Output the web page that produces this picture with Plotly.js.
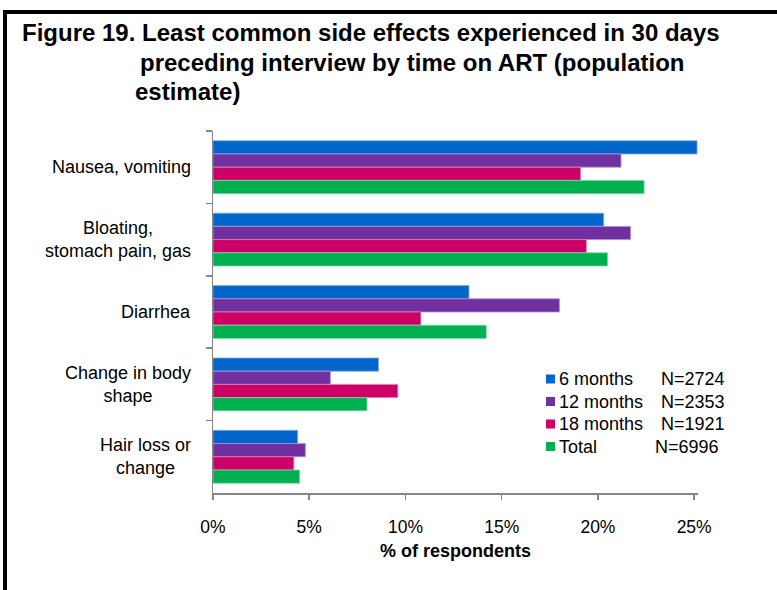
<!DOCTYPE html>
<html>
<head>
<meta charset="utf-8">
<script src="https://cdn.plot.ly/plotly-3.0.1.min.js"></script>
<style>
html,body{margin:0;padding:0;background:#fff;}
#chart{width:777px;height:590px;}
</style>
</head>
<body>
<div id="chart"></div>
<script>
// ---- data ----
const categories = ['Nausea, vomiting', 'Bloating, stomach pain, gas', 'Diarrhea', 'Change in body shape', 'Hair loss or change'];
const categoryLabels = ['Nausea, vomiting', 'Bloating,<br>stomach pain, gas', 'Diarrhea', 'Change in body<br>shape', 'Hair loss or<br>change'];
const seriesNames = ['6 months', '12 months', '18 months', 'Total'];
const seriesN = ['N=2724', 'N=2353', 'N=1921', 'N=6996'];
const months6 = [25.15, 20.3, 13.3, 8.6, 4.4];
const months12 = [21.2, 21.7, 18.0, 6.1, 4.8];
const months18 = [19.1, 19.4, 10.8, 9.6, 4.2];
const totalAll = [22.4, 20.5, 14.2, 8.0, 4.5];
const xTicks = [0, 5, 10, 15, 20, 25];
const xTickLabels = ['0%', '5%', '10%', '15%', '20%', '25%'];
const titleLines = ['Figure 19. Least common side effects experienced in 30 days',
                    'preceding interview by time on ART (population',
                    'estimate)'];
const axisTitle = '% of respondents';

const seriesValues = [months6, months12, months18, totalAll];
const colors = ['#0066CC', '#7030A0', '#CC0066', '#00B050'];
const edgeColors = ['#7FA8E0', '#B58FD0', '#E07FAA', '#7FD8A4'];

// ---- geometry helpers (pixel -> paper) ----
const W = 777, H = 590;
const M = {l: 213, r: 79, t: 131, b: 97};
const PW = W - M.l - M.r, PH = H - M.t - M.b;
const px = x => (x - M.l) / PW;
const py = y => (H - M.b - y) / PH;

const FONT = '"Liberation Sans", Arial, sans-serif';

const traces = seriesValues.map((vals, i) => ({
  type: 'bar',
  orientation: 'h',
  name: seriesNames[i],
  x: vals,
  y: categories,
  marker: {color: colors[i], line: {color: edgeColors[i], width: 0.8}},
  hoverinfo: 'x+y+name'
}));

const annotations = [];
// title lines
const titleX = [20, 138, 133];
const titleY = [33, 62, 91];
titleLines.forEach((t, i) => annotations.push({
  xref: 'paper', yref: 'paper', x: px(titleX[i]), y: py(titleY[i]),
  xanchor: 'left', yanchor: 'middle', showarrow: false, text: t,
  font: {family: FONT, size: 24, color: '#000', weight: 'bold'}
}));
// category labels
categories.forEach((c, i) => annotations.push({
  xref: 'paper', yref: 'y', x: px(193), y: c,
  xanchor: 'right', yanchor: 'middle', align: 'center', showarrow: false,
  text: categoryLabels[i], font: {family: FONT, size: 18, color: '#000'}
}));
// legend
const legRowY = [379, 401.5, 424, 446.5];
const nX = [659, 659, 659, 653];
const shapes = [];
seriesNames.forEach((n, i) => {
  annotations.push({
    xref: 'paper', yref: 'paper', x: px(557), y: py(legRowY[i]),
    xanchor: 'left', yanchor: 'middle', showarrow: false, text: n,
    font: {family: FONT, size: 18, color: '#000'}
  });
  annotations.push({
    xref: 'paper', yref: 'paper', x: px(nX[i]), y: py(legRowY[i]),
    xanchor: 'left', yanchor: 'middle', showarrow: false, text: seriesN[i],
    font: {family: FONT, size: 18, color: '#000'}
  });
  shapes.push({
    type: 'rect', xref: 'paper', yref: 'paper',
    x0: px(546), x1: px(555), y0: py(legRowY[i] - 4.5), y1: py(legRowY[i] + 4.5),
    fillcolor: colors[i], line: {width: 0}
  });
});
// outer frame (top and left)
shapes.push({type: 'line', xref: 'paper', yref: 'paper', x0: px(5), x1: px(780), y0: py(12), y1: py(12), line: {color: '#000', width: 4}});
shapes.push({type: 'line', xref: 'paper', yref: 'paper', x0: px(5), x1: px(5), y0: py(10), y1: py(600), line: {color: '#000', width: 4}});

const layout = {
  width: W, height: H,
  margin: M,
  paper_bgcolor: '#fff', plot_bgcolor: '#fff',
  barmode: 'group', bargap: 0.27, bargroupgap: 0,
  showlegend: false,
  font: {family: FONT, size: 18, color: '#000'},
  xaxis: {
    range: [0, 25.2], tickmode: 'array', tickvals: xTicks, ticktext: xTickLabels,
    showgrid: false, zeroline: false,
    showline: true, linecolor: '#868686', linewidth: 1.5,
    ticks: 'outside', ticklen: 5, tickcolor: '#868686', tickwidth: 1.5,
    ticklabelstandoff: 12,
    tickfont: {family: FONT, size: 17.5, color: '#000'},
    title: {text: axisTitle, standoff: 9, font: {family: FONT, size: 18, color: '#000', weight: 'bold'}},
    fixedrange: true
  },
  yaxis: {
    type: 'category', categoryorder: 'array', categoryarray: categories,
    autorange: 'reversed',
    showgrid: false, zeroline: false,
    showline: true, linecolor: '#868686', linewidth: 1.5,
    ticks: 'outside', ticklen: 6, tickcolor: '#868686', tickwidth: 1.5,
    tickson: 'boundaries', showticklabels: false,
    fixedrange: true
  },
  annotations: annotations,
  shapes: shapes
};

Plotly.newPlot('chart', traces, layout, {displayModeBar: false, staticPlot: true});
</script>
</body>
</html>
